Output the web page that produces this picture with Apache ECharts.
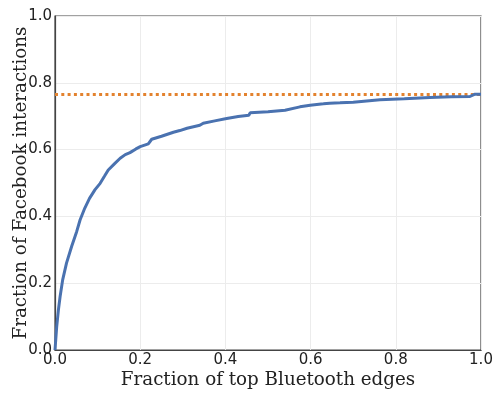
<!DOCTYPE html>
<html>
<head>
<meta charset="utf-8">
<script src="https://cdn.jsdelivr.net/npm/echarts@6/dist/echarts.min.js"></script>
<style>html,body{margin:0;padding:0;background:#fff}#c{width:494px;height:393px}</style>
</head>
<body>
<div id="c"></div>
<script>
var xVals = [0, 0.002, 0.004, 0.008, 0.012, 0.018, 0.027, 0.039, 0.051, 0.059, 0.07, 0.081, 0.094, 0.106, 0.116, 0.125, 0.14, 0.153, 0.165, 0.176, 0.19, 0.2, 0.219, 0.222, 0.227, 0.25, 0.278, 0.293, 0.31, 0.34, 0.348, 0.375, 0.403, 0.43, 0.455, 0.458, 0.5, 0.54, 0.544, 0.575, 0.599, 0.63, 0.645, 0.669, 0.7, 0.763, 0.82, 0.88, 0.93, 0.974, 0.986, 1.0];
var yVals = [0, 0.005, 0.07, 0.12, 0.16, 0.21, 0.26, 0.31, 0.355, 0.39, 0.425, 0.454, 0.48, 0.499, 0.52, 0.539, 0.558, 0.574, 0.585, 0.591, 0.602, 0.609, 0.617, 0.619, 0.631, 0.64, 0.652, 0.657, 0.664, 0.673, 0.679, 0.686, 0.693, 0.699, 0.703, 0.71, 0.713, 0.718, 0.723, 0.728, 0.733, 0.737, 0.739, 0.74, 0.742, 0.749, 0.752, 0.756, 0.758, 0.759, 0.766, 0.766];
var baselineY = 0.765;
var xTicks = ['0.0', '0.2', '0.4', '0.6', '0.8', '1.0'];
var yTicks = ['0.0', '0.2', '0.4', '0.6', '0.8', '1.0'];

var curve = xVals.map(function (x, i) { return [x, yVals[i]]; });
var chart = echarts.init(document.getElementById('c'), null, {renderer: 'canvas'});
var axisLabel = {fontFamily: 'DejaVu Sans', fontSize: 15, color: '#222'};
var titleStyle = {fontFamily: 'DejaVu Serif', fontSize: 18.3, color: '#222'};
chart.setOption({
  animation: false,
  backgroundColor: '#fff',
  grid: {left: 55, right: 13, top: 16, bottom: 43, show: true, borderColor: '#444', borderWidth: 1.2,
         containLabel: false, outerBoundsMode: 'none'},
  xAxis: {
    type: 'value', min: 0, max: 1, interval: 0.2,
    name: 'Fraction of top Bluetooth edges', nameLocation: 'middle', nameGap: 21, nameMoveOverlap: false,
    nameTextStyle: titleStyle,
    axisLine: {show: true, lineStyle: {color: '#444', width: 1.2}},
    axisTick: {show: false},
    axisLabel: Object.assign({margin: 3, formatter: function (v) { return xTicks[Math.round(v * 5)]; }}, axisLabel),
    splitLine: {show: true, lineStyle: {color: '#ececec', width: 1}}
  },
  yAxis: {
    type: 'value', min: 0, max: 1, interval: 0.2,
    name: 'Fraction of Facebook interactions', nameLocation: 'middle', nameGap: 25, nameMoveOverlap: false,
    nameTextStyle: titleStyle,
    axisLine: {show: true, lineStyle: {color: '#444', width: 1.2}},
    axisTick: {show: false},
    axisLabel: Object.assign({margin: 3, formatter: function (v) { return yTicks[Math.round(v * 5)]; }}, axisLabel),
    splitLine: {show: true, lineStyle: {color: '#ececec', width: 1}}
  },
  series: [
    {
      type: 'line', data: [[0, baselineY], [1, baselineY]], symbol: 'none',
      lineStyle: {color: '#e3822e', width: 3, type: [3, 3.3]}, z: 2
    },
    {
      type: 'line', data: curve, symbol: 'none',
      lineStyle: {color: '#4a72b0', width: 3}, z: 3
    }
  ]
});
</script>
</body>
</html>
